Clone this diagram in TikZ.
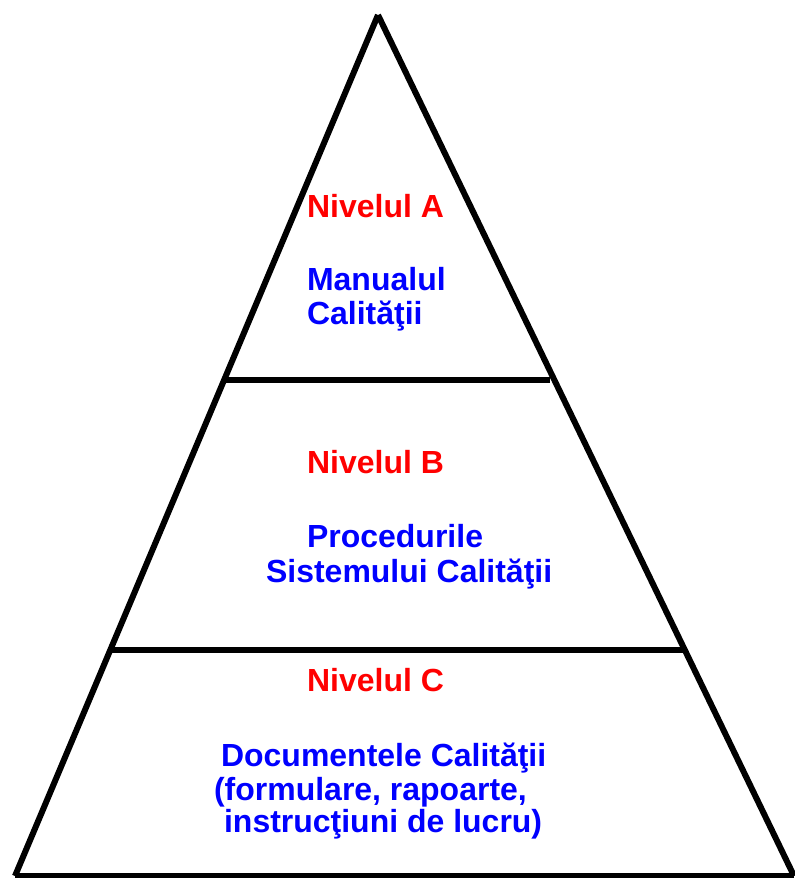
\documentclass[tikz,border=0pt]{standalone}
\usepackage{fontspec}
\setmainfont{Liberation Sans}
\usepackage{tkz-euclide}

\tikzset{
  edge/.style={line width=0.6cm, black},
  nivel/.style={text=red, font=\bfseries\fontsize{91}{98}\selectfont, anchor=base west, inner sep=0pt},
  descr/.style={nivel, text=blue},
}

\begin{document}
\begin{tikzpicture}
                    \useasboundingbox (0,0) rectangle (79.4,87.8);

                    \tkzDefPoint(37.8,86.3){V}
                    \tkzDefPoint(1.5,0.2){S1}
                    \tkzDefPoint(79.4,0.2){S2}
                    \draw[edge] (V) -- (S1);
                    \draw[edge] (V) -- (S2);
                    \draw[edge] (S1) -- (S2);

                    \tkzDefPoint(22.6,49.8){H1}
                    \tkzDefPoint(55.0,49.8){H2}
                    \draw[edge] (H1) -- (H2);

                    \tkzDefPoint(11.2,22.8){K1}
                    \tkzDefPoint(68.7,22.8){K2}
                    \draw[edge] (K1) -- (K2);

                    \node[nivel] (nivA) at (30.7,66.0) {Nivelul A};
                    \node[descr] (manual) at (30.7,58.7) {Manualul};
                    \node[descr] (calA) at (30.7,55.3) {Calităţii};

                    \node[nivel] (nivB) at (30.7,40.4) {Nivelul B};
                    \node[descr] (proc) at (30.7,33.0) {Procedurile};
                    \node[descr] (sist) at (26.6,29.5) {Sistemului Calităţii};

                    \node[nivel] (nivC) at (30.7,18.6) {Nivelul C};
                    \node[descr] (docs) at (22.1,11.1) {Documentele Calităţii};
                    \node[descr] (form) at (21.4,7.7) {(formulare, rapoarte,};
                    \node[descr] (instr) at (22.4,4.5) {instrucţiuni de lucru)};
                \end{tikzpicture}
\end{document}
